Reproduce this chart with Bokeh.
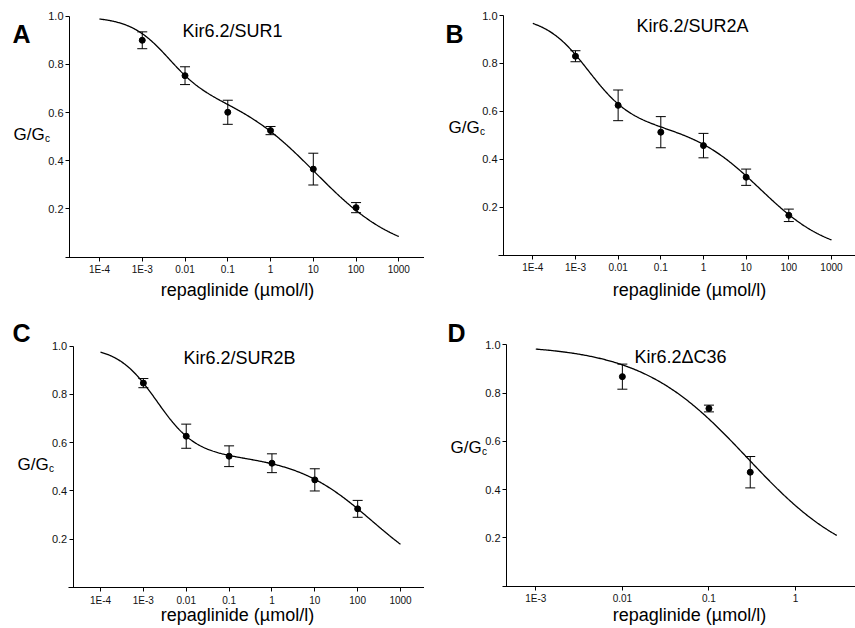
import numpy as np
from bokeh.plotting import figure
from bokeh.models import Range1d, FixedTicker, Whisker, TeeHead, ColumnDataSource, Label
from bokeh.layouts import column, row
from bokeh.embed import file_html
from bokeh.resources import INLINE

FONT = "Liberation Sans"

# ---------------- data ----------------
conc_abc = [1e-3, 1e-2, 1e-1, 1.0, 10.0, 100.0]

sur1_mean = [0.900, 0.753, 0.601, 0.525, 0.365, 0.205]
sur1_sem = [0.035, 0.037, 0.050, 0.017, 0.066, 0.021]

sur2a_mean = [0.830, 0.625, 0.513, 0.457, 0.325, 0.166]
sur2a_sem = [0.023, 0.064, 0.065, 0.051, 0.034, 0.026]

sur2b_mean = [0.847, 0.627, 0.544, 0.515, 0.446, 0.326]
sur2b_sem = [0.019, 0.050, 0.043, 0.039, 0.046, 0.035]

dc36_conc = [0.01, 0.1, 0.3]
dc36_mean = [0.868, 0.736, 0.472]
dc36_sem = [0.052, 0.014, 0.065]

# fitted-curve parameters: [high-affinity fraction, IC50_1, h1, IC50_2, h2]
fit_sur1 = [0.30, 0.0039, 1.00, 11.2, 0.44]
fit_sur2a = [0.45, 0.00198, 0.856, 21.5, 0.53]
fit_sur2b = [0.45, 0.00205, 0.952, 219.0, 0.48]
# single site: [floor, IC50, h]
fit_dc36 = [0.06, 0.28, 0.70]

curve_span_abc = [1e-4, 1e3]
curve_span_d = [1e-3, 3.0]

# tick labels
x_ticks_abc = [1e-4, 1e-3, 1e-2, 1e-1, 1.0, 10.0, 100.0, 1000.0]
x_labels_abc = ["1E-4", "1E-3", "0.01", "0.1", "1", "10", "100", "1000"]
x_ticks_d = [1e-3, 1e-2, 1e-1, 1.0]
x_labels_d = ["1E-3", "0.01", "0.1", "1"]
y_ticks = [0.2, 0.4, 0.6, 0.8, 1.0]
y_labels = ["0.2", "0.4", "0.6", "0.8", "1.0"]

panel_letters = ["A", "B", "C", "D"]
panel_titles = ["Kir6.2/SUR1", "Kir6.2/SUR2A", "Kir6.2/SUR2B", "Kir6.2\u0394C36"]
x_title = "repaglinide (\u00b5mol/l)"


def two_site(x, p):
    a, k1, h1, k2, h2 = p
    return a / (1 + (x / k1) ** h1) + (1 - a) / (1 + (x / k2) ** h2)


def one_site(x, p):
    f, k, h = p
    return f + (1 - f) / (1 + (x / k) ** h)


# panel geometry in page pixels:
# (ox, oy, W, H, ref_px, ref_log, px_per_decade, y1_px, y0_px, yaxis_px, xaxis_from_px, xaxis_to_px)
geoms = [
    (0, 0, 424, 306, 99.0, -4, 42.76, 15.7, 256.5, 69.0, 65.0, 427.0),
    (424, 0, 431, 306, 532.3, -4, 42.67, 15.0, 254.6, 503.0, 498.0, 855.0),
    (0, 306, 424, 322, 100.0, -4, 42.86, 345.7, 587.0, 72.7, 68.0, 424.0),
    (424, 306, 431, 322, 535.3, -3, 86.57, 344.3, 585.6, 506.0, 501.7, 855.0),
]


def make_panel(g, ticks, tlabels):
    ox, oy, W, H, rpx, rlog, ppd, y1, y0, yax, xa0, xa1 = g

    def lx(px):
        return 10 ** (rlog + (px - rpx) / ppd)

    def ly(py):
        return (y0 - py) / (y0 - y1)

    p = figure(width=W, height=H, x_axis_type="log",
               x_range=Range1d(lx(ox), lx(ox + W)), y_range=Range1d(ly(oy + H), ly(oy)),
               output_backend="svg", toolbar_location=None,
               min_border_left=0, min_border_top=0, min_border_right=0, min_border_bottom=0)
    p.outline_line_color = None
    p.xgrid.visible = False
    p.ygrid.visible = False
    p.background_fill_color = "white"
    p.border_fill_color = "white"
    for ax in (p.xaxis[0], p.yaxis[0]):
        ax.axis_line_color = "black"
        ax.axis_line_width = 1
        ax.major_tick_line_color = "black"
        ax.major_tick_in = 0
        ax.major_tick_out = 4
        ax.minor_tick_line_color = None
        ax.major_label_text_font = FONT
        ax.major_label_text_color = "#111111"
    xa = p.xaxis[0]
    xa.ticker = FixedTicker(ticks=ticks)
    xa.major_label_overrides = {t: l for t, l in zip(ticks, tlabels)}
    xa.major_label_text_font_size = "10px"
    xa.major_label_standoff = 3
    xa.fixed_location = 0
    xa.bounds = (lx(xa0), lx(xa1))
    ya = p.yaxis[0]
    ya.ticker = FixedTicker(ticks=y_ticks)
    ya.major_label_overrides = {t: l for t, l in zip(y_ticks, y_labels)}
    ya.major_label_text_font_size = "11px"
    ya.major_label_standoff = 2
    ya.fixed_location = lx(yax)
    ya.bounds = (0, 1)

    def to_data(px, py):
        return lx(px), ly(py)

    return p, to_data


def add_text(p, to_data, px, py, text, size, align="center", baseline="middle", bold=False):
    x, y = to_data(px, py)
    p.add_layout(Label(x=x, y=y, x_units="data", y_units="data", text=text,
                       text_font=FONT, text_font_size=size, text_align=align,
                       text_baseline=baseline, text_color="black",
                       text_font_style="bold" if bold else "normal"))


def add_data(p, conc, mean, sem):
    src = ColumnDataSource(dict(x=conc, y=mean,
                                up=[m + s for m, s in zip(mean, sem)],
                                lo=[m - s for m, s in zip(mean, sem)]))
    w = Whisker(base="x", upper="up", lower="lo", source=src, dimension="height",
                line_color="black", line_width=1,
                upper_head=TeeHead(size=10, line_color="black", line_width=1),
                lower_head=TeeHead(size=10, line_color="black", line_width=1))
    p.add_layout(w)
    p.scatter("x", "y", source=src, size=6, color="black")


# text placements (page px)
letter_pos = [(12, 33), (445, 33), (12, 332), (447, 332)]
title_pos = [(232, 30), (692, 25), (239, 357), (680, 356)]
ylab_pos = [(13, 134), (448, 127), (17, 464), (450, 447)]
xlab_pos = [(237, 289), (689, 289), (237, 614), (689, 614)]

series = [
    (conc_abc, sur1_mean, sur1_sem, fit_sur1),
    (conc_abc, sur2a_mean, sur2a_sem, fit_sur2a),
    (conc_abc, sur2b_mean, sur2b_sem, fit_sur2b),
    (dc36_conc, dc36_mean, dc36_sem, fit_dc36),
]

panels = []
for i in range(4):
    ticks, tl = (x_ticks_d, x_labels_d) if i == 3 else (x_ticks_abc, x_labels_abc)
    p, to_data = make_panel(geoms[i], ticks, tl)
    conc, mean, sem, fit = series[i]
    if i == 3:
        xs = np.logspace(np.log10(curve_span_d[0]), np.log10(curve_span_d[1]), 300)
        ys = one_site(xs, fit)
    else:
        xs = np.logspace(np.log10(curve_span_abc[0]), np.log10(curve_span_abc[1]), 400)
        ys = two_site(xs, fit)
    p.line(xs, ys, line_color="black", line_width=1.3)
    add_data(p, conc, mean, sem)

    lxp, lyp = letter_pos[i]
    add_text(p, to_data, lxp, lyp, panel_letters[i], "25px", align="left", baseline="alphabetic", bold=True)
    tx, ty = title_pos[i]
    add_text(p, to_data, tx, ty, panel_titles[i], "18px")
    gx, gy = ylab_pos[i]
    add_text(p, to_data, gx, gy, "G/G", "17px", align="left")
    add_text(p, to_data, gx + 31.5, gy + 4, "c", "10px", align="left")
    xx, xy = xlab_pos[i]
    add_text(p, to_data, xx, xy, x_title, "18px")
    panels.append(p)

layout = column(row(panels[0], panels[1]), row(panels[2], panels[3]))
open("out.html", "w").write(file_html(layout, INLINE))
